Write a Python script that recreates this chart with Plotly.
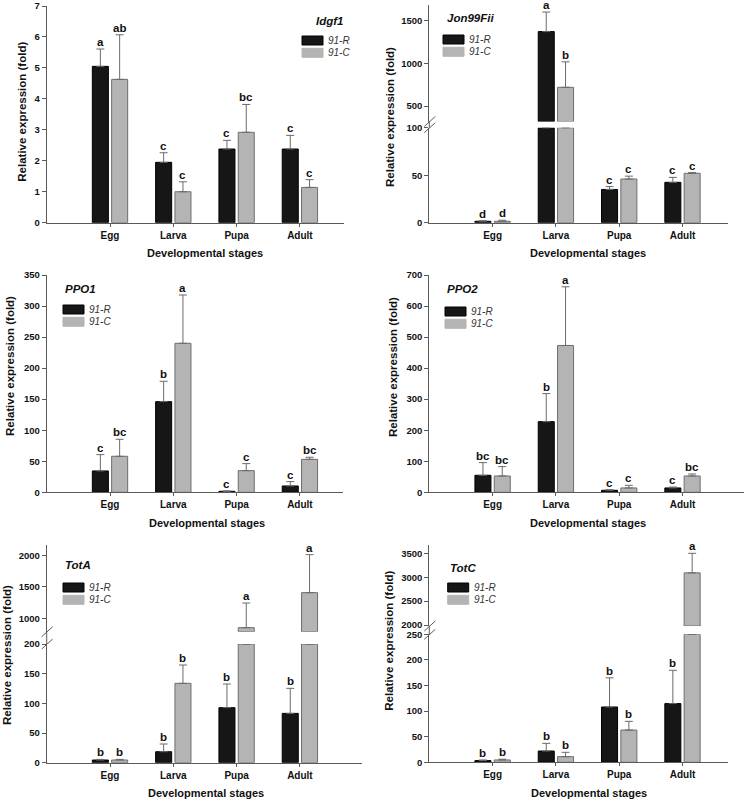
import numpy as np
import plotly.graph_objects as go

W, H = 750, 802
FONT = "Liberation Sans"

stages = ["Egg", "Larva", "Pupa", "Adult"]
series_names = ["91-R", "91-C"]

# ---- data (mean, standard error) ----
idgf1_R = [5.05, 1.95, 2.38, 2.38]
idgf1_R_se = [0.56, 0.31, 0.28, 0.44]
idgf1_C = [4.63, 1.00, 2.92, 1.14]
idgf1_C_se = [1.44, 0.32, 0.90, 0.25]
idgf1_letters_R = ["a", "c", "c", "c"]
idgf1_letters_C = ["ab", "c", "bc", "c"]

jon_R = [1.5, 1375, 35, 42.5]
jon_R_se = [0.7, 230, 3, 5.2]
jon_C = [1.5, 720, 46, 52]
jon_C_se = [1.1, 300, 3, 0.7]
jon_letters_R = ["d", "a", "c", "c"]
jon_letters_C = ["d", "b", "c", "c"]

ppo1_R = [34.4, 146, 1.6, 10.2]
ppo1_R_se = [26.3, 32.8, 0.6, 7.0]
ppo1_C = [58, 240, 34.9, 53.1]
ppo1_C_se = [27.4, 77.8, 11.3, 3.3]
ppo1_letters_R = ["c", "b", "c", "c"]
ppo1_letters_C = ["bc", "a", "c", "bc"]

ppo2_R = [54.8, 227.6, 6.4, 14]
ppo2_R_se = [40.8, 90.4, 2.2, 3]
ppo2_C = [52.6, 473, 14, 52.6]
ppo2_C_se = [30.1, 189, 8.5, 6.4]
ppo2_letters_R = ["bc", "b", "c", "c"]
ppo2_letters_C = ["bc", "a", "c", "bc"]

tota_R = [4.5, 18.5, 92.7, 83.1]
tota_R_se = [1.1, 13, 39.9, 42.2]
tota_C = [4.5, 133.7, 852, 1407]
tota_C_se = [1.1, 30.9, 391, 603]
tota_letters_R = ["b", "b", "b", "b"]
tota_letters_C = ["b", "b", "a", "a"]

totc_R = [3.3, 22, 108, 114.6]
totc_R_se = [1.3, 15, 57, 65.1]
totc_C = [4.6, 11, 63, 3091]
totc_C_se = [1.3, 8.5, 17, 409]
totc_letters_R = ["b", "b", "b", "b"]
totc_letters_C = ["b", "b", "b", "a"]

# ---- layout geometry (pixels) ----
SP = 63.3  # category spacing in px
panels = [
    dict(gene="Idgf1", R=idgf1_R, Rse=idgf1_R_se, C=idgf1_C, Cse=idgf1_C_se,
         LR=idgf1_letters_R, LC=idgf1_letters_C, x0=46.7, x1=344,
         segs=[(222.7, 6, 0, 7, list(range(0, 8)))],
         leg=dict(title_x=345, title_y=21.5, title_anchor="right", sx=302, sy=36),
         ytitle=(21.7, 112), xtitle=(205, 253.3)),
    dict(gene="Jon99Fii", R=jon_R, Rse=jon_R_se, C=jon_C, Cse=jon_C_se,
         LR=jon_letters_R, LC=jon_letters_C, x0=429.3, x1=728,
         segs=[(222.7, 127.7, 0, 100, [0, 50, 100]),
               (121.5, 5, 318, 1688, [500, 1000, 1500])],
         leg=dict(title_x=445, title_y=18, title_anchor="left", sx=443, sy=35),
         ytitle=(390, 117), xtitle=(588, 253.3)),
    dict(gene="PPO1", R=ppo1_R, Rse=ppo1_R_se, C=ppo1_C, Cse=ppo1_C_se,
         LR=ppo1_letters_R, LC=ppo1_letters_C, x0=46.7, x1=343,
         segs=[(492.3, 275, 0, 350, list(range(0, 351, 50)))],
         leg=dict(title_x=63, title_y=289, title_anchor="left", sx=63, sy=305),
         ytitle=(10, 366), xtitle=(206.7, 522.7)),
    dict(gene="PPO2", R=ppo2_R, Rse=ppo2_R_se, C=ppo2_C, Cse=ppo2_C_se,
         LR=ppo2_letters_R, LC=ppo2_letters_C, x0=429.3, x1=744,
         segs=[(492.3, 275, 0, 700, list(range(0, 701, 100)))],
         leg=dict(title_x=445, title_y=289, title_anchor="left", sx=445, sy=307),
         ytitle=(393, 367), xtitle=(588.3, 523.3)),
    dict(gene="TotA", R=tota_R, Rse=tota_R_se, C=tota_C, Cse=tota_C_se,
         LR=tota_letters_R, LC=tota_letters_C, x0=46.7, x1=362,
         segs=[(762.7, 644, 0, 200, list(range(0, 201, 50))),
               (631.7, 545, 788, 2163, [1000, 1500, 2000])],
         leg=dict(title_x=63, title_y=565, title_anchor="left", sx=63, sy=583),
         ytitle=(7, 655), xtitle=(205.8, 793.3)),
    dict(gene="TotC", R=totc_R, Rse=totc_R_se, C=totc_C, Cse=totc_C_se,
         LR=totc_letters_R, LC=totc_letters_C, x0=429.3, x1=728,
         segs=[(762.3, 634.3, 0, 250, list(range(0, 251, 50))),
               (626, 545, 1979, 3674, [2000, 2500, 3000, 3500])],
         leg=dict(title_x=447.7, title_y=567.7, title_anchor="left", sx=447.7, sy=583),
         ytitle=(389, 640.7), xtitle=(588.8, 793.3)),
]

BLACK_FILL, BLACK_LINE = "#161616", "#000000"
GREY_FILL, GREY_LINE = "#b4b4b4", "#6e6e6e"
ERR_COL = "#6a6a6a"
AXIS_COL = "#5a5a5a"
TXT = "#111111"
BARGAP, BARGROUPGAP = 0.39, 0.17


def fx(p):
    return p / W


def fy(p):
    return 1 - p / H


fig = go.Figure()
layout = dict(template="none", width=W, height=H, margin=dict(l=0, r=0, t=0, b=0, pad=0),
              autosize=False,
              paper_bgcolor="white", plot_bgcolor="white", showlegend=False,
              barmode="group", bargap=BARGAP, bargroupgap=BARGROUPGAP,
              font=dict(family=FONT, color=TXT))
annotations = []
shapes = []
xi = 0
yi = 0
slot = (1 - BARGAP) / 2  # category units per bar slot
offset_px = slot / 2 * SP

for p in panels:
    xi += 1
    xref = "x" if xi == 1 else f"x{xi}"
    xkey = "xaxis" if xi == 1 else f"xaxis{xi}"
    x_hi = (p["x1"] - p["x0"]) / SP - 1
    seg_refs = []
    for j, (bpx, tpx, lo, hi, tv) in enumerate(p["segs"]):
        yi += 1
        yref = "y" if yi == 1 else f"y{yi}"
        ykey = "yaxis" if yi == 1 else f"yaxis{yi}"
        seg_refs.append(yref)
        layout[ykey] = dict(domain=[fy(bpx), fy(tpx)], anchor=xref, range=[lo, hi],
                            automargin=False,
                            tickmode="array", tickvals=tv, ticks="outside", ticklen=4,
                            tickcolor=AXIS_COL, tickwidth=1, showline=True,
                            linecolor=AXIS_COL, linewidth=1, showgrid=False,
                            zeroline=False, fixedrange=True,
                            tickfont=dict(family=FONT, size=9.5, color=TXT, weight="bold"))
    layout[xkey] = dict(domain=[fx(p["x0"]), fx(p["x1"])], anchor=seg_refs[0],
                        automargin=False,
                        type="category", categoryorder="array", categoryarray=stages,
                        range=[-1, x_hi], showline=True, linecolor=AXIS_COL, linewidth=1,
                        ticks="outside", ticklen=3, tickcolor=AXIS_COL, showgrid=False,
                        zeroline=False, fixedrange=True, ticklabelstandoff=0,
                        tickfont=dict(family=FONT, size=10, color=TXT, weight="bold"))

    nseg = len(p["segs"])
    for s_idx, (vals, se, letters, fill, line) in enumerate([
            (p["R"], p["Rse"], p["LR"], BLACK_FILL, BLACK_LINE),
            (p["C"], p["Cse"], p["LC"], GREY_FILL, GREY_LINE)]):
        vals = np.array(vals, dtype=float)
        se = np.array(se, dtype=float)
        for j, (bpx, tpx, lo, hi, tv) in enumerate(p["segs"]):
            yref = seg_refs[j]
            if nseg == 1:
                y = vals
                base = None
                err = se
                own = np.ones(len(vals), bool)
            elif j == 0:
                y = np.minimum(vals, hi)
                base = None
                own = vals <= hi
                err = np.where(own, se, np.nan)
            else:
                own = vals > lo
                y = np.where(own, vals - lo, np.nan)
                base = lo
                err = np.where(own, se, np.nan)
            fig.add_trace(go.Bar(
                x=stages, y=[None if np.isnan(v) else v for v in y], base=base,
                name=series_names[s_idx], xaxis=xref, yaxis=yref,
                marker=dict(color=fill, line=dict(color=line, width=1)),
                error_y=dict(type="data", symmetric=False,
                             array=[None if np.isnan(v) else v for v in err],
                             arrayminus=[0 if not np.isnan(v) else None for v in err],
                             color=ERR_COL, thickness=1, width=4),
                showlegend=False, hoverinfo="skip"))
            for k in range(len(vals)):
                if own[k]:
                    annotations.append(dict(
                        x=stages[k], y=vals[k] + se[k], xref=xref, yref=yref,
                        text=f"<b>{letters[k]}</b>", showarrow=False,
                        xshift=(-offset_px if s_idx == 0 else offset_px), yshift=-1,
                        yanchor="bottom", xanchor="center",
                        font=dict(family=FONT, size=11.5, color=TXT)))

    # broken-axis connectors and marks
    if nseg == 2:
        low_top = p["segs"][0][1]
        up_bot = p["segs"][1][0]
        shapes.append(dict(type="line", xref="paper", yref="paper",
                           x0=fx(p["x0"]), x1=fx(p["x0"]), y0=fy(low_top), y1=fy(up_bot),
                           line=dict(color=AXIS_COL, width=1)))
        for yy in (up_bot, low_top):
            shapes.append(dict(type="line", xref="paper", yref="paper",
                               x0=fx(p["x0"] - 5), x1=fx(p["x0"] + 6),
                               y0=fy(yy + 5), y1=fy(yy - 5),
                               line=dict(color=AXIS_COL, width=1)))

    # legend drawn as swatches + text
    lg = p["leg"]
    annotations.append(dict(x=fx(lg["title_x"]), y=fy(lg["title_y"]), xref="paper", yref="paper",
                            text=f"<b><i>{p['gene']}</i></b>", showarrow=False,
                            xanchor=lg["title_anchor"], yanchor="middle",
                            font=dict(family=FONT, size=11.5, color=TXT)))
    for s_idx, (fill, line) in enumerate([(BLACK_FILL, BLACK_LINE), (GREY_FILL, "#b4b4b4")]):
        top = lg["sy"] + s_idx * 12.3
        shapes.append(dict(type="rect", xref="paper", yref="paper",
                           x0=fx(lg["sx"]), x1=fx(lg["sx"] + 21), y0=fy(top + 9), y1=fy(top),
                           fillcolor=fill, line=dict(color=line, width=1)))
        annotations.append(dict(x=fx(lg["sx"] + 24), y=fy(top + 4.5), xref="paper", yref="paper",
                                text=f"<i>{series_names[s_idx]}</i>", showarrow=False,
                                xanchor="left", yanchor="middle",
                                font=dict(family=FONT, size=10, color="#333333")))

    # axis titles
    tx, ty = p["ytitle"]
    annotations.append(dict(x=fx(tx), y=fy(ty), xref="paper", yref="paper",
                            text="<b>Relative expression (fold)</b>", showarrow=False,
                            textangle=-90, xanchor="center", yanchor="middle",
                            font=dict(family=FONT, size=11.5, color=TXT)))
    tx, ty = p["xtitle"]
    annotations.append(dict(x=fx(tx), y=fy(ty), xref="paper", yref="paper",
                            text="<b>Developmental stages</b>", showarrow=False,
                            xanchor="center", yanchor="middle",
                            font=dict(family=FONT, size=11, color=TXT)))

layout["annotations"] = annotations
layout["shapes"] = shapes
fig.update_layout(**layout)
fig.write_html("out.html", config={"displayModeBar": False},
               post_script="document.body.style.margin='0';document.body.style.overflow='hidden';")
